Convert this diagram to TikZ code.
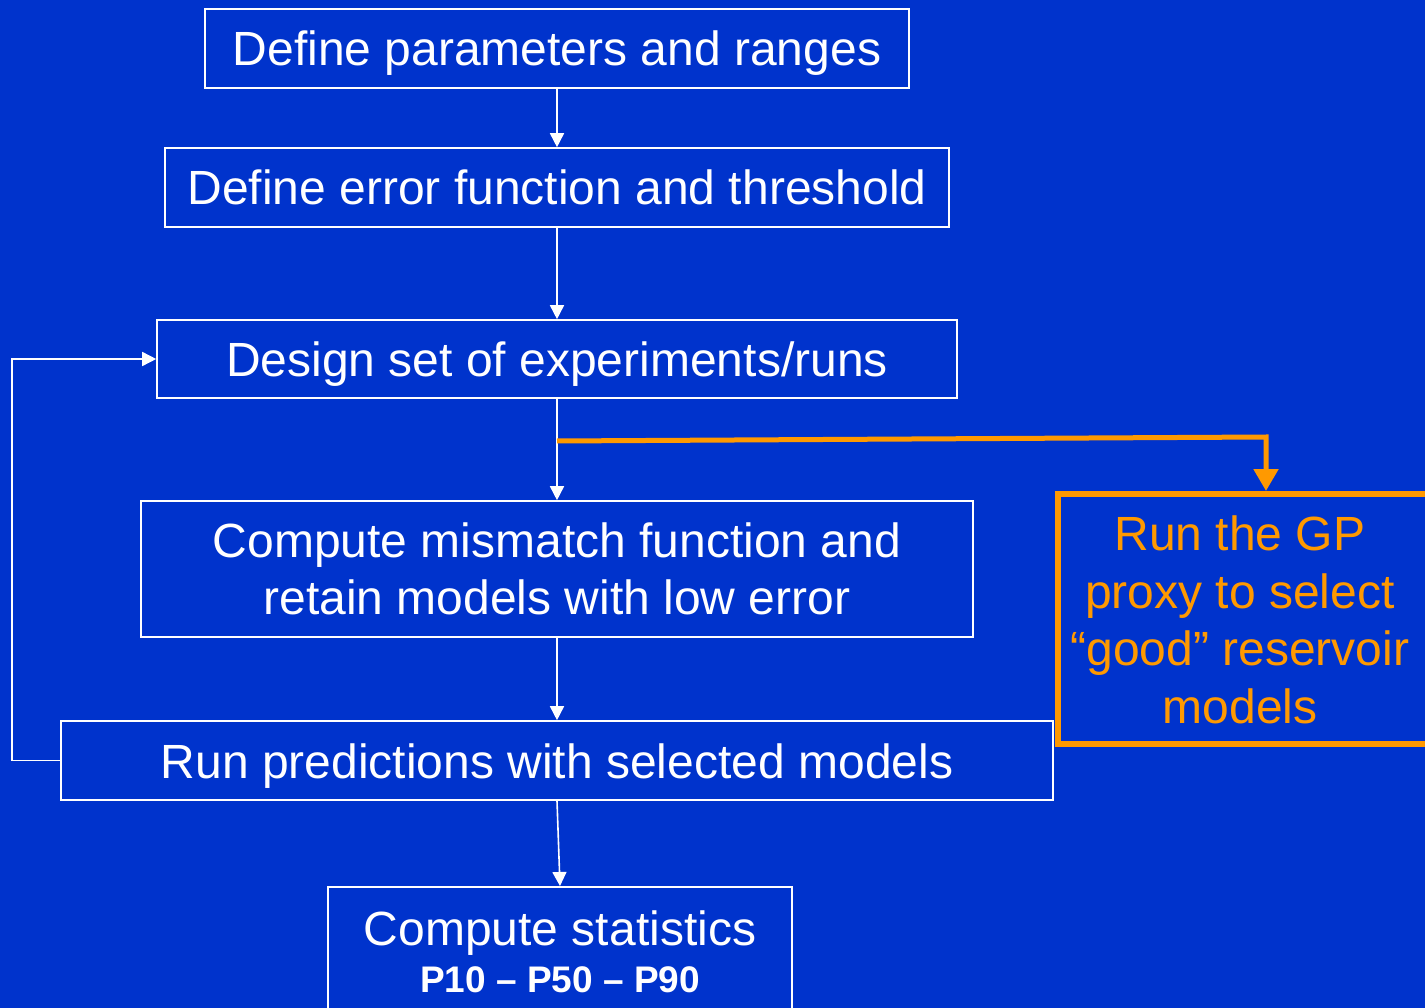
\documentclass[tikz,border=0pt]{standalone}
\usepackage{fontspec}
\setmainfont{Liberation Sans}
\usetikzlibrary{arrows.meta}
\definecolor{slideblue}{HTML}{0033CC}
\definecolor{gporange}{HTML}{FF9900}
\begin{document}
\begin{tikzpicture}[x=1pt,y=-1pt,
  box/.style={draw=white, line width=1.6pt, text=white, inner sep=0pt,
    font=\fontsize{48}{57.6}\selectfont},
  oneline/.style={text height=35pt, text depth=0pt},
  flow/.style={draw=white, line width=1.6pt, -{Triangle[width=14pt,length=14pt]}},
  gpbox/.style={draw=gporange, line width=6pt, inner sep=0pt},
  gptext/.style={text=gporange, inner sep=0pt,
    font=\fontsize{48}{57.6}\selectfont, align=center},
  gpflow/.style={draw=gporange, line width=5pt, -{Triangle[width=24pt,length=22pt]}}]
  \useasboundingbox (0,0) rectangle (1425,1008);
  \clip (0,0) rectangle (1425,1008);
  \fill[slideblue] (0,0) rectangle (1425,1008);

  % main chain of steps
  \node[box, oneline, minimum width=704, minimum height=79] (params) at (557,48.5) {Define parameters and ranges};
  \node[box, oneline, minimum width=784, minimum height=79] (error) at (557,187.5) {Define error function and threshold};
  \node[box, oneline, minimum width=800, minimum height=78] (design) at (557,359) {Design set of experiments/runs};
  \node[box, align=center, minimum width=832, minimum height=136] (mismatch) at (557,569) {Compute mismatch function and\\retain models with low error};
  \node[box, oneline, minimum width=992, minimum height=79] (run) at (557,760.5) {Run predictions with selected models};
  \node[box, minimum width=464, minimum height=160, anchor=north] (stats) at (560,886) {};
  \node[text=white, font=\fontsize{48}{57.6}\selectfont, oneline, inner sep=0pt] (statsA) at (560,928) {Compute statistics};
  \node[text=white, font=\fontsize{37}{44}\selectfont\bfseries, text height=27pt, text depth=0pt, inner sep=0pt] (statsB) at (560,979) {P10 -- P50 -- P90};

  % proxy step
  \node[gpbox, minimum width=380, minimum height=250] (gp) at (1248,619) {};
  \node[gptext] (gplabel) at (1240,620) {Run the GP\\proxy to select\\``good'' reservoir\\models};

  % connectors
  \draw[flow] (params.south) -- (error.north);
  \draw[flow] (error.south) -- (design.north);
  \draw[flow] (design.south) -- (mismatch.north);
  \draw[flow] (mismatch.south) -- (run.north);
  \draw[flow] (run.south) -- (stats.north);
  \draw[flow] (run.west) -- ++(-48,0) |- (design.west);

  \coordinate (split) at (557,441);
  \coordinate (bend) at (1266,437);
  \draw[gpflow] (split) -- (bend) -- (bend |- gp.north);
\end{tikzpicture}
\end{document}
